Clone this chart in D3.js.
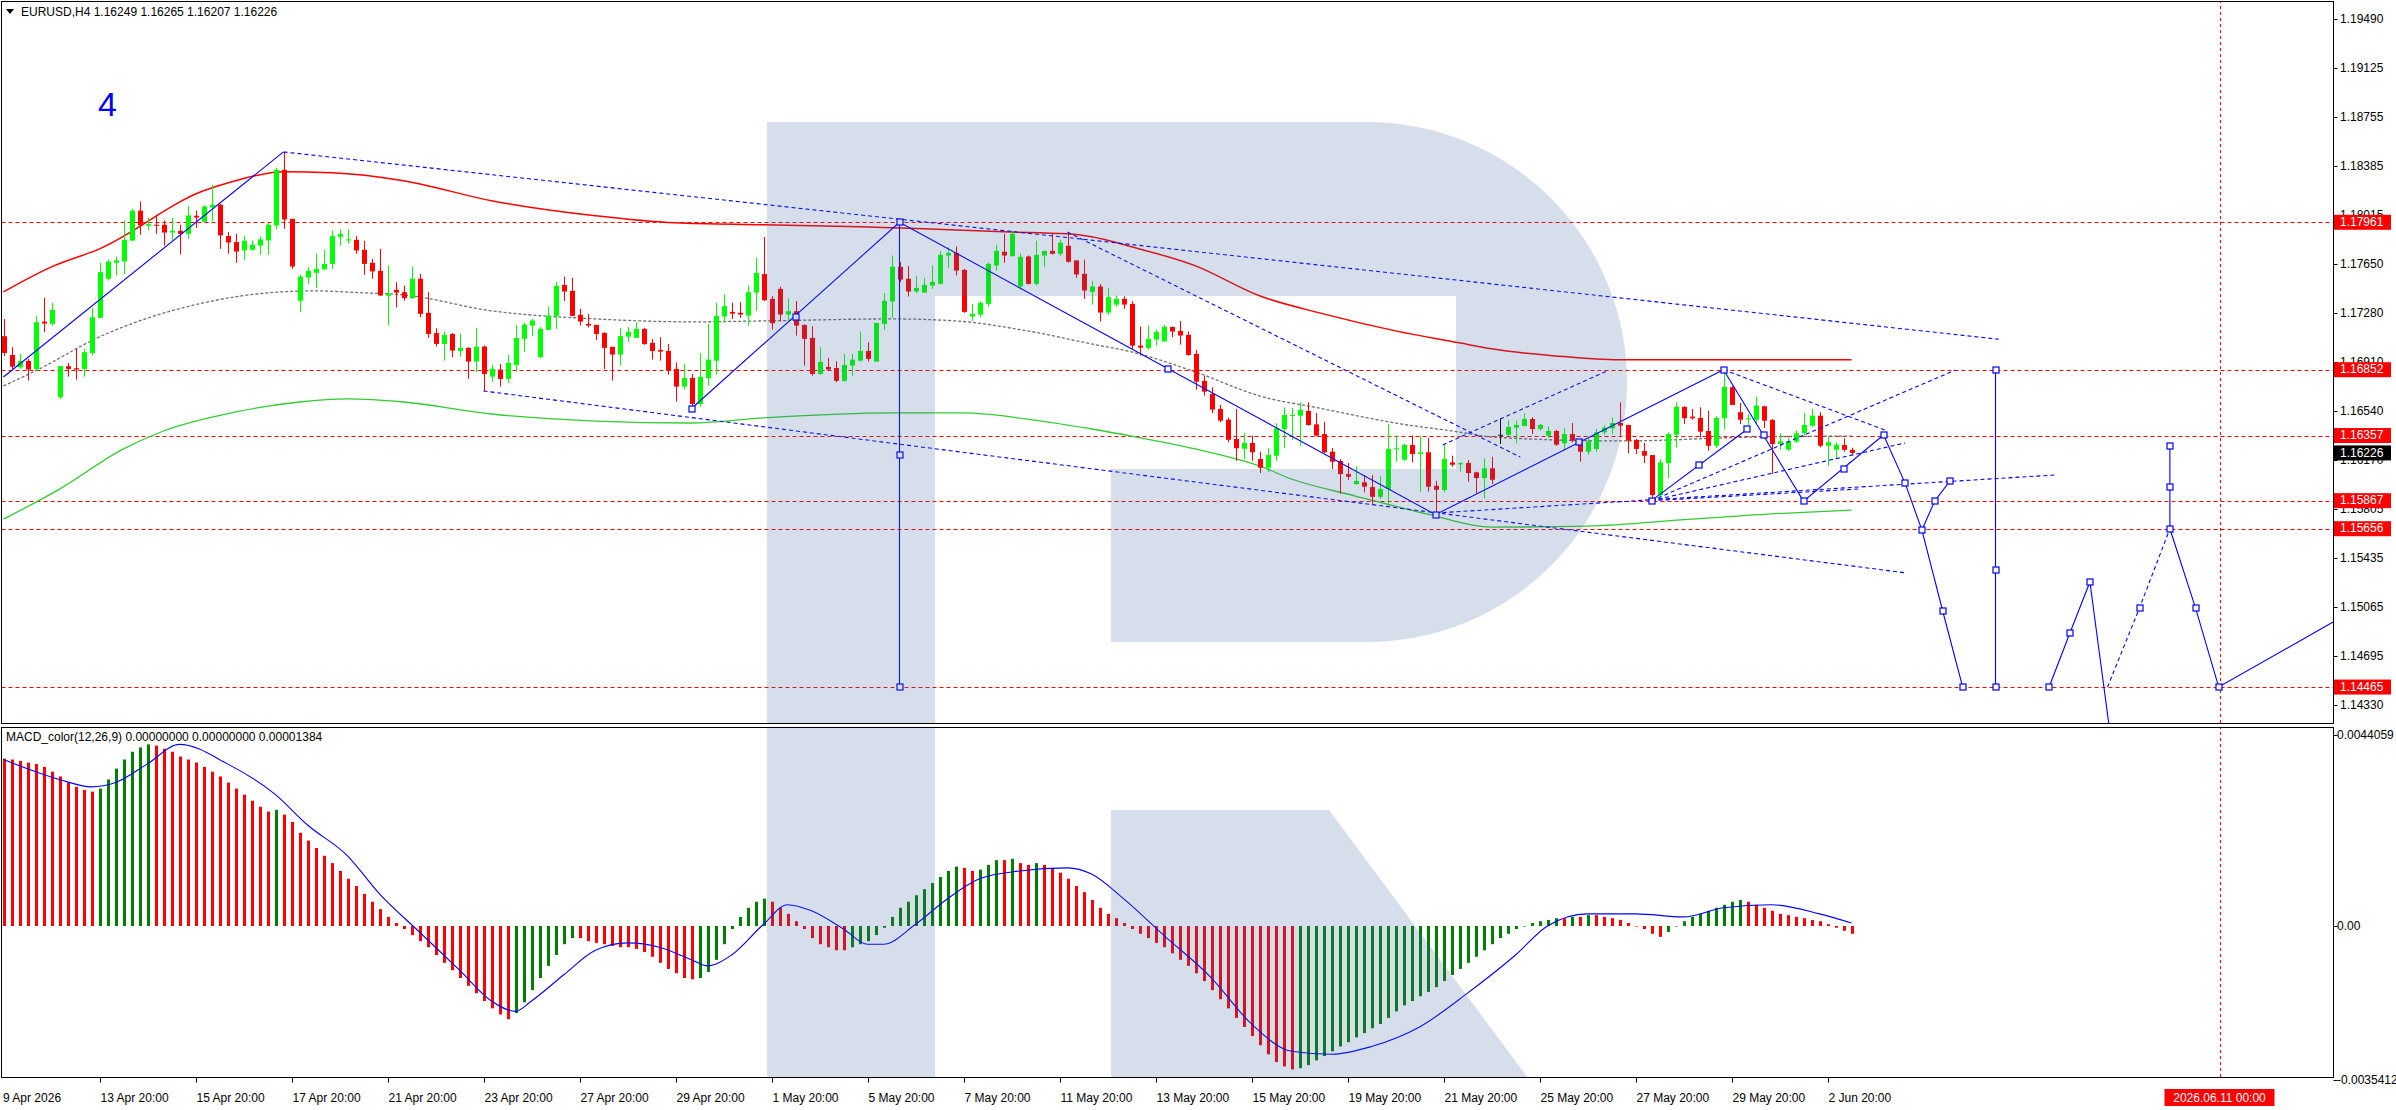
<!DOCTYPE html>
<html><head><meta charset="utf-8">
<script src="https://cdn.jsdelivr.net/npm/d3@7"></script>
<style>body{margin:0;background:#fff}svg{display:block}text{font-family:"Liberation Sans",Arial,sans-serif}</style>
</head><body><svg id="c" width="2396" height="1110"></svg>
<script>
const symbolTitle = "EURUSD,H4";
const headerOHLC = [1.16249, 1.16265, 1.16207, 1.16226];
const openP = [
1.17104,1.16963,1.16870,1.16918,1.16858,1.17214,1.17197,1.16645,1.16878,1.16863,
1.16858,1.16978,1.17242,1.17536,1.17656,1.17666,1.17824,1.18048,1.17935,1.17942,
1.17942,1.17884,1.17897,1.17874,1.18010,1.17965,1.18072,1.18093,1.17857,1.17812,
1.17749,1.17754,1.17786,1.17824,1.17937,1.18356,1.17987,1.17370,1.17545,1.17581,
1.17606,1.17648,1.17852,1.17827,1.17829,1.17754,1.17656,1.17596,1.17408,1.17453,
1.17435,1.17390,1.17536,1.17280,1.17127,1.17046,1.17121,1.16993,1.17016,1.16913,
1.17026,1.16800,1.16853,1.16783,1.16888,1.17084,1.17184,1.16946,1.17152,1.17257,
1.17490,1.17445,1.17265,1.17197,1.17189,1.17129,1.17024,1.16966,1.17101,1.17091,
1.17159,1.17054,1.17001,1.16993,1.16858,1.16725,1.16790,1.16594,1.16790,1.16920,
1.17252,1.17287,1.17280,1.17259,1.17432,1.17571,1.17385,1.17460,1.17267,1.17292,
1.17189,1.17091,1.16820,1.16873,1.16865,1.16768,1.16883,1.16920,1.16993,1.16913,
1.17197,1.17365,1.17626,1.17536,1.17440,1.17432,1.17485,1.17498,1.17711,1.17731,
1.17603,1.17252,1.17267,1.17347,1.17636,1.17739,1.17706,1.17478,1.17704,1.17498,
1.17711,1.17746,1.17724,1.17784,1.17674,1.17573,1.17438,1.17478,1.17282,1.17342,
1.17385,1.17347,1.17033,1.17016,1.17079,1.17064,1.17174,1.17144,1.17114,1.16971,
1.16768,1.16670,1.16557,1.16476,1.16331,1.16258,1.16301,1.16180,1.16115,1.16205,
1.16406,1.16504,1.16506,1.16542,1.16441,1.16368,1.16235,1.16165,1.16067,1.15992,
1.16005,1.15969,1.15896,1.15954,1.16253,1.16175,1.16286,1.16218,1.16231,1.15979,
1.15947,1.16155,1.16140,1.16150,1.16080,1.16037,1.16110,1.16363,1.16363,1.16416,
1.16429,1.16481,1.16406,1.16356,1.16391,1.16298,1.16368,1.16331,1.16235,1.16256,
1.16381,1.16411,1.16451,1.16436,1.16323,1.16240,1.16210,1.15909,1.16150,1.16363,
1.16572,1.16499,1.16489,1.16391,1.16280,1.16487,1.16720,1.16532,1.16481,1.16476,
1.16577,1.16474,1.16293,1.16250,1.16311,1.16376,1.16431,1.16506,1.16280,1.16250,
1.16286,1.16249];
const highP = [
1.17234,1.17021,1.16971,1.16933,1.17254,1.17393,1.17355,1.16880,1.16903,1.17009,
1.17009,1.17317,1.17656,1.17681,1.17704,1.17975,1.18063,1.18118,1.17993,1.18018,
1.17975,1.17995,1.17942,1.18083,1.18050,1.18088,1.18243,1.18100,1.17887,1.17874,
1.17857,1.17824,1.17854,1.17957,1.18371,1.18490,1.17987,1.17566,1.17624,1.17724,
1.17754,1.17899,1.17905,1.17905,1.17857,1.17822,1.17686,1.17761,1.17636,1.17511,
1.17485,1.17628,1.17573,1.17435,1.17164,1.17139,1.17127,1.17121,1.17021,1.17167,
1.17034,1.16888,1.16895,1.16963,1.17189,1.17204,1.17234,1.17172,1.17327,1.17511,
1.17553,1.17543,1.17310,1.17272,1.17189,1.17134,1.17024,1.17164,1.17172,1.17209,
1.17167,1.17084,1.17097,1.17046,1.16908,1.16895,1.16820,1.16978,1.17197,1.17355,
1.17417,1.17355,1.17360,1.17485,1.17694,1.17850,1.17405,1.17475,1.17390,1.17368,
1.17192,1.17179,1.17021,1.16941,1.16916,1.16971,1.16971,1.17139,1.17059,1.17204,
1.17428,1.17711,1.17661,1.17631,1.17558,1.17541,1.17636,1.17744,1.17774,1.17779,
1.17611,1.17347,1.17365,1.17658,1.17792,1.17874,1.17899,1.17724,1.17711,1.17822,
1.17746,1.17874,1.17829,1.17887,1.17674,1.17679,1.17518,1.17496,1.17468,1.17410,
1.17405,1.17368,1.17176,1.17184,1.17154,1.17189,1.17176,1.17219,1.17139,1.17001,
1.16807,1.16720,1.16587,1.16491,1.16557,1.16376,1.16356,1.16235,1.16263,1.16449,
1.16569,1.16564,1.16607,1.16607,1.16527,1.16461,1.16263,1.16180,1.16150,1.16125,
1.16060,1.16060,1.16050,1.16444,1.16356,1.16293,1.16356,1.16356,1.16338,1.16017,
1.16293,1.16205,1.16155,1.16173,1.16085,1.16186,1.16197,1.16487,1.16471,1.16469,
1.16524,1.16494,1.16444,1.16426,1.16399,1.16411,1.16451,1.16331,1.16336,1.16406,
1.16434,1.16494,1.16607,1.16436,1.16331,1.16301,1.16210,1.16180,1.16381,1.16607,
1.16577,1.16557,1.16569,1.16544,1.16502,1.16853,1.16732,1.16602,1.16519,1.16649,
1.16582,1.16481,1.16374,1.16336,1.16393,1.16527,1.16557,1.16532,1.16351,1.16306,
1.16336,1.16265];
const lowP = [
1.16954,1.16858,1.16858,1.16770,1.16845,1.17134,1.17184,1.16632,1.16800,1.16777,
1.16800,1.16958,1.17242,1.17523,1.17561,1.17573,1.17817,1.17867,1.17899,1.17874,
1.17786,1.17824,1.17719,1.17837,1.17920,1.17965,1.17967,1.17761,1.17724,1.17656,
1.17679,1.17749,1.17716,1.17716,1.17907,1.17912,1.17611,1.17285,1.17498,1.17466,
1.17606,1.17611,1.17786,1.17799,1.17724,1.17566,1.17536,1.17405,1.17184,1.17320,
1.17372,1.17385,1.17247,1.17091,1.17026,1.16920,1.16946,1.16951,1.16783,1.16833,
1.16690,1.16762,1.16725,1.16752,1.16838,1.16984,1.17104,1.16941,1.17152,1.17159,
1.17370,1.17254,1.17184,1.17169,1.17076,1.16858,1.16770,1.16883,1.17063,1.17091,
1.17039,1.16928,1.16920,1.16815,1.16612,1.16702,1.16562,1.16574,1.16732,1.16815,
1.17209,1.17234,1.17242,1.17184,1.17295,1.17368,1.17154,1.17214,1.17209,1.17109,
1.16883,1.16807,1.16815,1.16845,1.16758,1.16762,1.16807,1.16913,1.16913,1.16913,
1.17152,1.17242,1.17511,1.17402,1.17428,1.17430,1.17460,1.17493,1.17618,1.17561,
1.17280,1.17219,1.17244,1.17327,1.17598,1.17656,1.17701,1.17455,1.17493,1.17485,
1.17626,1.17719,1.17706,1.17656,1.17543,1.17385,1.17342,1.17214,1.17265,1.17327,
1.17310,1.17009,1.16958,1.17003,1.17033,1.17064,1.17097,1.17041,1.16958,1.16702,
1.16657,1.16524,1.16457,1.16306,1.16167,1.16180,1.16167,1.16075,1.16080,1.16167,
1.16261,1.16325,1.16280,1.16431,1.16351,1.16225,1.16105,1.15919,1.16024,1.15987,
1.15929,1.15834,1.15879,1.15829,1.16160,1.16167,1.16155,1.15934,1.15934,1.15766,
1.15929,1.16122,1.16085,1.16009,1.15922,1.15884,1.15992,1.16293,1.16351,1.16298,
1.16424,1.16368,1.16393,1.16336,1.16280,1.16243,1.16306,1.16160,1.16213,1.16235,
1.16361,1.16368,1.16356,1.16223,1.16218,1.16150,1.15879,1.15879,1.16035,1.16268,
1.16444,1.16476,1.16343,1.16243,1.16263,1.16401,1.16587,1.16444,1.16436,1.16444,
1.16414,1.16067,1.16250,1.16243,1.16301,1.16356,1.16419,1.16268,1.16130,1.16185,
1.16235,1.16207];
const closeP = [
1.16978,1.16875,1.16918,1.16853,1.17209,1.17199,1.17302,1.16880,1.16858,1.16853,
1.16984,1.17247,1.17586,1.17666,1.17674,1.17829,1.18048,1.17937,1.17947,1.17937,
1.17884,1.17897,1.17874,1.18012,1.17997,1.18080,1.18093,1.17862,1.17809,1.17741,
1.17822,1.17792,1.17832,1.17942,1.18356,1.17982,1.17628,1.17553,1.17596,1.17611,
1.17648,1.17857,1.17872,1.17832,1.17749,1.17648,1.17591,1.17410,1.17423,1.17432,
1.17390,1.17536,1.17272,1.17121,1.17046,1.17114,1.16996,1.17016,1.16913,1.17024,
1.16820,1.16858,1.16783,1.16903,1.17091,1.17192,1.17222,1.17159,1.17259,1.17483,
1.17440,1.17257,1.17214,1.17184,1.17121,1.17016,1.16966,1.17104,1.17137,1.17159,
1.17046,1.16993,1.16988,1.16845,1.16725,1.16790,1.16594,1.16798,1.16928,1.17257,
1.17330,1.17274,1.17267,1.17435,1.17579,1.17375,1.17202,1.17267,1.17292,1.17184,
1.17084,1.16820,1.16911,1.16853,1.16768,1.16888,1.16928,1.16993,1.16933,1.17204,
1.17370,1.17626,1.17530,1.17440,1.17468,1.17490,1.17513,1.17716,1.17731,1.17598,
1.17287,1.17272,1.17355,1.17648,1.17746,1.17711,1.17874,1.17701,1.17498,1.17716,
1.17746,1.17724,1.17807,1.17664,1.17568,1.17448,1.17478,1.17282,1.17398,1.17385,
1.17342,1.17033,1.17018,1.17084,1.17137,1.17174,1.17139,1.17109,1.16963,1.16762,
1.16687,1.16552,1.16469,1.16325,1.16261,1.16301,1.16231,1.16115,1.16210,1.16411,
1.16511,1.16511,1.16549,1.16436,1.16356,1.16231,1.16160,1.16067,1.16047,1.16015,
1.15972,1.15896,1.15954,1.16256,1.16261,1.16286,1.16218,1.16231,1.15972,1.15949,
1.16180,1.16137,1.16150,1.16075,1.16037,1.16110,1.16024,1.16363,1.16421,1.16436,
1.16481,1.16406,1.16436,1.16391,1.16288,1.16368,1.16318,1.16235,1.16311,1.16381,
1.16416,1.16451,1.16431,1.16318,1.16256,1.16205,1.15909,1.16155,1.16368,1.16572,
1.16487,1.16487,1.16386,1.16280,1.16489,1.16722,1.16587,1.16476,1.16487,1.16582,
1.16469,1.16293,1.16313,1.16313,1.16374,1.16436,1.16506,1.16280,1.16306,1.16288,
1.16250,1.16226];

const timeLabels = ["9 Apr 2026","13 Apr 20:00","15 Apr 20:00","17 Apr 20:00","21 Apr 20:00","23 Apr 20:00","27 Apr 20:00","29 Apr 20:00","1 May 20:00","5 May 20:00","7 May 20:00","11 May 20:00","13 May 20:00","15 May 20:00","19 May 20:00","21 May 20:00","25 May 20:00","27 May 20:00","29 May 20:00","2 Jun 20:00"];
const timeLabelBars = [0,12,24,36,48,60,72,84,96,108,120,132,144,156,168,180,192,204,216,228];
const priceTicks = [1.19490,1.19125,1.18755,1.18385,1.18015,1.17650,1.17280,1.16910,1.16540,1.16170,1.15805,1.15435,1.15065,1.14695,1.14330];
const levelLines = [1.17961,1.16852,1.16357,1.15867,1.15656,1.14465];
const lastPrice = 1.16226;
const forecastBar = 277;
const forecastLabel = "2026.06.11 00:00";

// moving averages: [bar, price]
const maRed = [[0,1.17438],[6,1.17626],[12,1.17761],[25,1.18198],[29,1.18274],[35,1.18341],[41,1.18334],[50,1.18274],[61,1.18123],[74,1.18010],[84,1.17957],[95,1.17942],[107,1.17927],[115,1.17912],[125,1.17889],[133,1.17874],[136,1.17852],[141,1.17777],[149,1.17633],[157,1.17408],[165,1.17272],[174,1.17144],[182,1.17054],[186,1.17009],[194,1.16956],[202,1.16926],[215,1.16926],[231,1.16926]];
const maGray = [[0,1.16730],[4,1.16843],[12,1.17099],[25,1.17355],[33,1.17430],[39,1.17445],[45,1.17430],[50,1.17415],[61,1.17295],[74,1.17234],[86,1.17212],[95,1.17219],[111,1.17234],[119,1.17219],[128,1.17144],[136,1.17046],[141,1.16986],[149,1.16835],[157,1.16655],[165,1.16557],[174,1.16451],[182,1.16383],[186,1.16346],[202,1.16316],[219,1.16346],[231,1.16353]];
const maGreen = [[0,1.15728],[7,1.15954],[15,1.16256],[20,1.16391],[29,1.16534],[37,1.16609],[43,1.16632],[50,1.16609],[61,1.16519],[74,1.16466],[86,1.16451],[95,1.16489],[111,1.16527],[120,1.16527],[128,1.16481],[136,1.16406],[141,1.16353],[149,1.16256],[157,1.16128],[161,1.16030],[169,1.15902],[178,1.15766],[186,1.15668],[198,1.15676],[211,1.15728],[223,1.15774],[231,1.15796]];

// MACD
const macdHist = [
.00386,.00384,.00381,.00377,.00374,.00367,.00356,.00345,.00331,.00321,
.00314,.00310,.00317,.00338,.00363,.00384,.00402,.00412,.00419,.00416,
.00409,.00402,.00391,.00384,.00377,.00367,.00356,.00345,.00331,.00317,
.00303,.00289,.00275,.00264,.00268,.00257,.00240,.00215,.00197,.00180,
.00162,.00145,.00127,.00109,.00092,.00074,.00056,.00039,.00021,.00007,
-.00007,-.00021,-.00035,-.00049,-.00067,-.00085,-.00102,-.00120,-.00138,-.00155,
-.00173,-.00190,-.00204,-.00215,-.00201,-.00176,-.00148,-.00120,-.00092,-.00067,
-.00042,-.00028,-.00028,-.00035,-.00039,-.00042,-.00046,-.00049,-.00049,-.00053,
-.00060,-.00071,-.00085,-.00099,-.00109,-.00120,-.00123,-.00120,-.00106,-.00078,
-.00042,-.00007,.00021,.00042,.00056,.00063,.00056,.00042,.00028,.00011,
-.00007,-.00028,-.00042,-.00049,-.00056,-.00056,-.00049,-.00042,-.00035,-.00021,
-.00004,.00021,.00042,.00056,.00071,.00085,.00099,.00113,.00127,.00137,
.00134,.00127,.00130,.00141,.00152,.00152,.00155,.00145,.00141,.00145,
.00141,.00134,.00123,.00109,.00092,.00078,.00060,.00042,.00028,.00018,
.00007,-.00007,-.00018,-.00028,-.00039,-.00049,-.00063,-.00078,-.00092,-.00109,
-.00127,-.00148,-.00169,-.00190,-.00212,-.00233,-.00254,-.00275,-.00296,-.00314,
-.00324,-.00331,-.00328,-.00321,-.00310,-.00300,-.00289,-.00278,-.00268,-.00257,
-.00247,-.00236,-.00226,-.00212,-.00197,-.00183,-.00173,-.00162,-.00152,-.00141,
-.00127,-.00113,-.00099,-.00085,-.00071,-.00056,-.00042,-.00028,-.00018,-.00007,
0,.00007,.00011,.00014,.00018,.00018,.00021,.00021,.00025,.00025,
.00021,.00018,.00014,.00007,0,-.00007,-.00018,-.00025,-.00014,0,
.00011,.00021,.00028,.00035,.00042,.00049,.00056,.00060,.00056,.00049,
.00042,.00035,.00028,.00025,.00021,.00018,.00014,.00011,.00004,-.00004,
-.00011,-.00018];
const macdSignal = [[0,.00384],[7,.00338],[11,.00321],[14,.00331],[18,.00374],[22,.00419],[28,.00374],[34,.00303],[38,.00233],[43,.00162],[47,.00074],[52,-.00014],[57,-.00102],[61,-.00173],[64,-.00197],[66,-.00173],[70,-.00113],[74,-.00056],[78,-.00039],[82,-.00049],[86,-.00078],[88,-.00092],[91,-.00067],[95,.00004],[98,.00049],[101,.00035],[105,-.00007],[108,-.00042],[110,-.00042],[114,.00004],[118,.00063],[122,.00109],[127,.00127],[133,.00134],[136,.00120],[140,.00063],[145,-.00021],[151,-.00120],[156,-.00226],[161,-.00289],[166,-.00296],[171,-.00278],[177,-.00233],[183,-.00155],[189,-.00067],[193,0],[198,.00028],[204,.00028],[210,.00021],[215,.00042],[221,.00049],[227,.00028],[231,.00007]];
const macdTicks = [0.0044059, 0, -0.0035412];
const macdTickLabels = ["0.0044059","0.00","-0.0035412"];
const macdTitle = "MACD_color(12,26,9) 0.00000000 0.00000000 0.00001384";

// blue analysis drawings: [bar, price]
const solidPaths = [
 [[0,1.16797],[35,1.18490]],
 [[86,1.16560],[112,1.17961]],
 [[112,1.17961],[112,1.14465]],
 [[112,1.17961],[179,1.15762]],
 [[179,1.15762],[215,1.16852]],
 [[206,1.15867],[218,1.16406]],
 [[215,1.16852],[225,1.15864],[235,1.16361]],
 [[235,1.16361],[237.7,1.15999],[239.8,1.15646],[242.4,1.15037],[244.9,1.14465]],
 [[239.8,1.15646],[241.4,1.15864],[243.3,1.16015]],
 [[249,1.16852],[249,1.14465]],
 [[255.7,1.14465],[258.3,1.14872],[260.8,1.15255],[263.2,1.14172]],
 [[270.8,1.16278],[270.8,1.15656]],
 [[270.8,1.15656],[274,1.15060],[276.9,1.14465],[291.2,1.14954]]
];
const dottedPaths = [
 [[35,1.18490],[249.4,1.17081]],
 [[60,1.16692],[237.9,1.15323]],
 [[133,1.17887],[189.6,1.16195]],
 [[179.9,1.16286],[200.4,1.16842]],
 [[179,1.15774],[256.4,1.16060]],
 [[206,1.15867],[244,1.16850]],
 [[206,1.15867],[237.7,1.16301]],
 [[206,1.15867],[232,1.15955]],
 [[215,1.16852],[235.2,1.16398]],
 [[263,1.14465],[267,1.15060],[270.8,1.15656]]
];
const markerPoints = [[86,1.16560],[99,1.17248],[112,1.17961],[112,1.16210],[112,1.14465],[145.5,1.16857],[179,1.15762],[196.9,1.16308],[206,1.15867],[211.9,1.16135],[215,1.16852],[217.9,1.16406],[220,1.16361],[225,1.15864],[230,1.16105],[235,1.16361],[237.7,1.15999],[239.8,1.15646],[241.4,1.15864],[243.3,1.16015],[242.4,1.15037],[244.9,1.14465],[249,1.16852],[249,1.15345],[249,1.14465],[255.7,1.14465],[258.3,1.14872],[260.8,1.15255],[267,1.15060],[270.8,1.15656],[270.8,1.15970],[270.8,1.16278],[274,1.15060],[276.9,1.14465]];
const waveLabel = {text:"4", bar:13, price:1.18828};

// ---------- drawing ----------
const svg = d3.select('#c');
const L = 1.5, R = 2333.5, mT = 1.5, mB = 723.5, sT = 727.5, sB = 1077.5;
const x = d3.scaleLinear().domain([0,1]).range([3.5,11.5]);
const y = d3.scaleLinear().domain([1.14330,1.19490]).range([705,19]);
const ym = d3.scaleLinear().domain([-0.0035412,0.0044059]).range([1079.5,735]);

const defs = svg.append('defs');
defs.append('clipPath').attr('id','cm').append('rect').attr('x',L).attr('y',mT).attr('width',R-L).attr('height',mB-mT);
defs.append('clipPath').attr('id','cs').append('rect').attr('x',L).attr('y',sT).attr('width',R-L).attr('height',sB-sT);

const gM = svg.append('g').attr('clip-path','url(#cm)');
const gS = svg.append('g').attr('clip-path','url(#cs)');

// level lines
gM.selectAll('line.lvl').data(levelLines).join('line')
  .attr('x1',L).attr('x2',R).attr('y1',d=>Math.round(y(d))+0.5).attr('y2',d=>Math.round(y(d))+0.5)
  .attr('stroke','#ff0000').attr('stroke-width',1).attr('stroke-dasharray','4,3');
// forecast vertical line
[gM,gS].forEach(g=>g.append('line').attr('x1',Math.round(x(forecastBar))+0.5).attr('x2',Math.round(x(forecastBar))+0.5)
  .attr('y1',0).attr('y2',1110).attr('stroke','#ff0000').attr('stroke-dasharray','3,3'));

// moving averages
const maLine = d3.line().x(d=>x(d[0])).y(d=>y(d[1])).curve(d3.curveMonotoneX);
gM.append('path').attr('d',maLine(maRed)).attr('fill','none').attr('stroke','#ff0000').attr('stroke-width',1.5);
gM.append('path').attr('d',maLine(maGray)).attr('fill','none').attr('stroke','#707070').attr('stroke-width',1.3).attr('stroke-dasharray','3,2');
gM.append('path').attr('d',maLine(maGreen)).attr('fill','none').attr('stroke','#32cd32').attr('stroke-width',1.3);

// candles
const bars = d3.range(openP.length);
const col = i => closeP[i] > openP[i] ? '#00ff00' : (closeP[i] < openP[i] ? '#ff0000' : '#000000');
gM.selectAll('line.wick').data(bars).join('line')
  .attr('x1',i=>Math.round(x(i))+0.5).attr('x2',i=>Math.round(x(i))+0.5)
  .attr('y1',i=>y(highP[i])).attr('y2',i=>y(lowP[i])).attr('stroke',col).attr('stroke-width',1);
gM.selectAll('rect.body').data(bars).join('rect')
  .attr('x',i=>Math.round(x(i))-2).attr('width',5)
  .attr('y',i=>Math.min(y(openP[i]),y(closeP[i])))
  .attr('height',i=>Math.max(1,Math.abs(y(openP[i])-y(closeP[i]))))
  .attr('fill',col);

// blue drawings
const pl = d3.line().x(d=>x(d[0])).y(d=>y(d[1]));
gM.selectAll('path.sol').data(solidPaths).join('path').attr('d',pl).attr('fill','none').attr('stroke','#0000ff').attr('stroke-width',1.1);
gM.selectAll('path.dot').data(dottedPaths).join('path').attr('d',pl).attr('fill','none').attr('stroke','#0000ff').attr('stroke-width',1.1).attr('stroke-dasharray','4,3');
gM.selectAll('rect.mk').data(markerPoints).join('rect')
  .attr('x',d=>Math.round(x(d[0]))-3).attr('y',d=>Math.round(y(d[1]))-3).attr('width',6).attr('height',6)
  .attr('fill','#fff').attr('stroke','#0000ff').attr('stroke-width',1.2);
gM.append('text').attr('x',x(waveLabel.bar)).attr('y',y(waveLabel.price)).attr('text-anchor','middle').attr('dominant-baseline','middle')
  .attr('font-size',34).attr('fill','#0000ff').text(waveLabel.text);

// MACD histogram (green when rising, red when falling)
const z = ym(0);
gS.selectAll('rect.h').data(macdHist).join('rect')
  .attr('x',(d,i)=>Math.round(x(i))-1).attr('width',3)
  .attr('y',d=>Math.min(z,ym(d))).attr('height',d=>Math.max(0.5,Math.abs(ym(d)-z)))
  .attr('fill',(d,i)=> (i>0 && d>macdHist[i-1]) ? '#008000' : '#ff0000');
gS.append('path').attr('d',d3.line().x(d=>x(d[0])).y(d=>ym(d[1])).curve(d3.curveMonotoneX)(macdSignal))
  .attr('fill','none').attr('stroke','#0000ff').attr('stroke-width',1.1);

// watermark logo (drawn on top, semi-transparent)
const wm = 'rgb(60,100,160)';
gM.append('path').attr('d','M767,122 H1367 A260,260 0 0 1 1367,642 H1111 V469 H1456 V296 H935 V724 H767 Z').attr('fill',wm).attr('fill-opacity',0.21);
gS.append('path').attr('d','M767,727 H935 V1078 H767 Z').attr('fill',wm).attr('fill-opacity',0.21);
gS.append('path').attr('d','M1111,810 H1329 L1528,1078 H1111 Z').attr('fill',wm).attr('fill-opacity',0.21);

// frames
svg.append('rect').attr('x',L).attr('y',mT).attr('width',R-L).attr('height',mB-mT).attr('fill','none').attr('stroke','#000');
svg.append('rect').attr('x',L).attr('y',sT).attr('width',R-L).attr('height',sB-sT).attr('fill','none').attr('stroke','#000');

// price axis
const fmt = d3.format('.5f');
priceTicks.forEach(v=>{
  const yy = Math.round(y(v))+0.5;
  svg.append('line').attr('x1',R).attr('x2',R+4).attr('y1',yy).attr('y2',yy).attr('stroke','#000');
  svg.append('text').attr('x',2340).attr('y',yy).attr('dominant-baseline','middle').attr('font-size',12).text(fmt(v));
});
levelLines.forEach(v=>{
  const yy = y(v);
  svg.append('rect').attr('x',2334).attr('y',yy-7.5).attr('width',57).attr('height',15).attr('fill','#ff0000');
  svg.append('text').attr('x',2340).attr('y',yy+0.5).attr('dominant-baseline','middle').attr('font-size',12).attr('fill','#fff').text(fmt(v));
});
{
  const yy = y(lastPrice);
  svg.append('rect').attr('x',2334).attr('y',yy-7.5).attr('width',57).attr('height',15).attr('fill','#000');
  svg.append('text').attr('x',2340).attr('y',yy+0.5).attr('dominant-baseline','middle').attr('font-size',12).attr('fill','#fff').text(fmt(lastPrice));
}
// macd axis
macdTicks.forEach((v,i)=>{
  const yy = Math.round(ym(v))+0.5;
  svg.append('line').attr('x1',R).attr('x2',R+4).attr('y1',yy).attr('y2',yy).attr('stroke','#000');
  svg.append('text').attr('x',2337).attr('y',yy).attr('dominant-baseline','middle').attr('font-size',12).text(macdTickLabels[i]);
});

// time axis
timeLabels.forEach((t,i)=>{
  const xx = Math.round(x(timeLabelBars[i]))+0.5;
  if(i>0) svg.append('line').attr('x1',xx).attr('x2',xx).attr('y1',sB).attr('y2',sB+5).attr('stroke','#000');
  svg.append('text').attr('x',i===0?3:xx).attr('y',1102).attr('font-size',12).text(t);
});
{
  const xx = x(forecastBar);
  svg.append('rect').attr('x',xx-55).attr('y',1089).attr('width',110).attr('height',17).attr('fill','#ff0000');
  svg.append('text').attr('x',xx).attr('y',1102).attr('text-anchor','middle').attr('font-size',12).attr('fill','#fff').text(forecastLabel);
}

// header texts
svg.append('path').attr('d','M6,9 L14,9 L10,14 Z').attr('fill','#000');
svg.append('text').attr('x',21).attr('y',16).attr('font-size',12).text(symbolTitle+'  '+headerOHLC.map(fmt).join(' '));
svg.append('text').attr('x',6).attr('y',741).attr('font-size',12).text(macdTitle);
</script></body></html>
